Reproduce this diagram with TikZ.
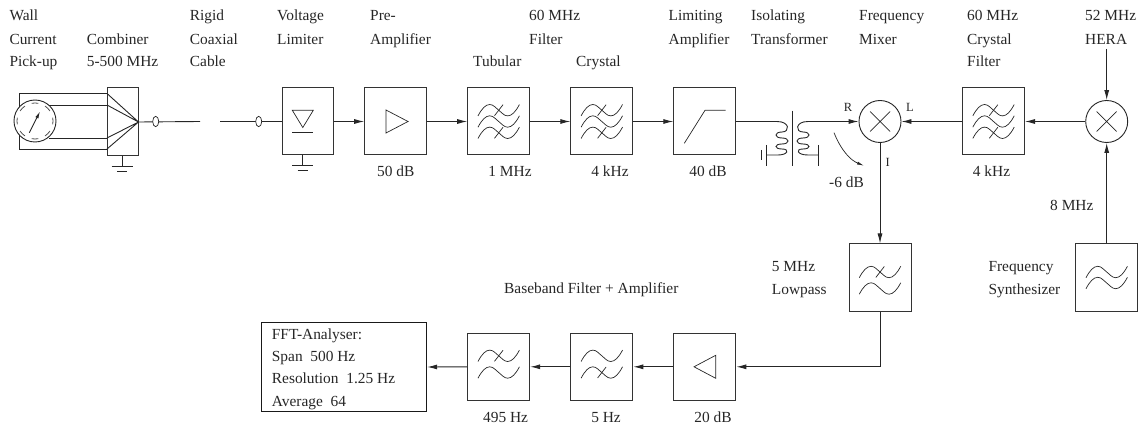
\documentclass[tikz,border=0pt]{standalone}
\usepackage{fontspec}
\setmainfont{Liberation Serif}
\usetikzlibrary{arrows.meta}
\tikzset{
  x=1pt,y=-1pt,
  ln/.style={line width=0.9pt,black!85},
  thin ln/.style={line width=0.7pt,black!85},
  blk/.style={draw=black!80,line width=1pt,minimum width=62pt,minimum height=67pt,inner sep=0pt},
  mix/.style={circle,draw=black!85,line width=0.9pt,minimum size=42pt,inner sep=0pt},
  lbl/.style={font=\fontsize{15.4pt}{18pt}\selectfont,inner sep=0pt,text=black!85},
  small lbl/.style={font=\fontsize{12.5pt}{14pt}\selectfont,inner sep=0pt,text=black!85},
  arr/.style={ln,-{Latex[length=10pt,width=5pt]}},
  wave/.pic={\draw[thin ln] (-20.7,5.7) .. controls (-17,-1.5) and (-13,-5.7) .. (-9,-5.7)
     .. controls (-5,-5.7) and (-3,-2) .. (0,0)
     .. controls (3,2) and (5,5.7) .. (9,5.7)
     .. controls (13,5.7) and (17,1.5) .. (20.7,-5.7);},
  cross/.pic={\draw[thin ln] (-4.2,5.5) -- (4.3,-5.5);}
}
\newcommand{\threefilter}[1]{
  \path (#1.center) pic at +(0,-11.3) {wave} pic at +(0,0) {wave} pic at +(0,11.3) {wave}
     pic at +(0,-11.3) {cross} pic at +(0,11.3) {cross};}
\begin{document}
\begin{tikzpicture}
\useasboundingbox (0,0) rectangle (1142,430);
% top row blocks
\node[blk,minimum width=31pt,minimum height=68pt] (comb) at (122.5,122) {};
\node[blk,minimum width=51pt] (vlim) at (307.5,121.5) {};
\node[blk] (pre) at (395.7,121.5) {};
\node[blk] (tub) at (498.7,121.5) {};
\node[blk] (cry) at (601.8,121.5) {};
\node[blk] (lim) at (704.8,121.5) {};
\node[mix] (mx1) at (880,121.5) {};
\node[blk] (fil) at (993.5,121.5) {};
\node[mix] (mx2) at (1106.7,121.5) {};
\node[blk] (lp) at (880,277.5) {};
\node[blk] (syn) at (1106.7,277.5) {};
\node[blk] (bb1) at (704.8,366.8) {};
\node[blk] (bb2) at (601.8,366.8) {};
\node[blk] (bb3) at (498.7,366.8) {};
\node[draw=black!90,line width=1pt,minimum width=165.4pt,minimum height=89.4pt,inner sep=0pt] (fft) at (344,367) {};
\coordinate (hera) at (1106.7,49);
\coordinate (cabA) at (200,121.5);
\coordinate (cabB) at (220,121.5);
\coordinate (tin) at (777,121.5);
\coordinate (tout) at (808,121.5);
\coordinate (lpturn) at (880,366.8);
% pick-up
\node[circle,draw=black!85,line width=0.9pt,minimum size=42pt,inner sep=0pt] (pu) at (35,121) {};
\coordinate (w1) at (107,93.5);
\coordinate (w2) at (107,105);
\coordinate (w3) at (107,138);
\coordinate (w4) at (107,149);
\coordinate (cout) at (comb.east);
\draw[ln] (19,107) -- (19,93.5) -- (w1);
\draw[ln] (19,135) -- (19,149) -- (w4);
\draw[ln] (49,105) -- (w2);
\draw[ln] (49,138) -- (w3);
\draw[ln] (w1) -- (cout) (w2) -- (cout) (w3) -- (cout) (w4) -- (cout);
\foreach \a in {0,45,...,315}
  \draw[black!70,line width=0.8pt] ([shift={(\a-11:18)}]35,121) arc[start angle=\a-11,end angle=\a+11,radius=18];
\draw[ln,-{Latex[length=7pt,width=3.5pt]}] (29.3,132.7) -- (40,111.5);
% grounds
\foreach \n/\xx/\yy in {comb/122.2/156,vlim/302.7/155}{
  \draw[ln] (\xx,\yy) -- (\xx,\yy+10.5);
  \draw[ln] (\xx-10.5,\yy+10.5) -- (\xx+10.5,\yy+10.5);
  \draw[ln] (\xx-5,\yy+15.5) -- (\xx+5,\yy+15.5);
}
% cable
\draw[ln] (comb.east) -- (cabA);
\draw[ln] (cabB) -- (vlim.west);
\foreach \xx in {155.7,258.7} \draw[thin ln,fill=white] (\xx,121.5) ellipse[x radius=3,y radius=5.2];
% limiter symbol
\draw[thin ln] (292.3,110.3) -- (313.3,110.3) -- (302.8,127.5) -- cycle;
\draw[thin ln] (292.3,132.3) -- (313.3,132.3);
% amp symbols
\draw[thin ln] (386,110) -- (386,133) -- (408,121.5) -- cycle;
\draw[thin ln] (715.7,355.3) -- (715.7,378.3) -- (694,366.8) -- cycle;
\draw[thin ln] (684.3,143.3) -- (705,110.3) -- (725.7,110.3);
% filters
\threefilter{tub}
\threefilter{cry}
\threefilter{fil}
\path (bb3.center) pic at +(0,-11) {wave} pic at +(0,5.7) {wave} pic at +(0,-11) {cross};
\path (bb2.center) pic at +(0,-11) {wave} pic at +(0,5.7) {wave} pic at +(0,5.7) {cross};
\path (lp.center) pic at +(0,-5.5) {wave} pic at +(0,11) {wave} pic at +(0,-5.5) {cross};
\path (syn.center) pic at +(0,-5.5) {wave} pic at +(0,5.5) {wave};
% mixer crosses
\foreach \n in {mx1,mx2}{
 \draw[thin ln] (\n.center) ++(-10,-10) -- ++(20,20) ++(-20,0) -- ++(20,-20);
}
% connectors
\draw[arr] (vlim.east) -- (pre.west);
\draw[arr] (pre.east) -- (tub.west);
\draw[arr] (tub.east) -- (cry.west);
\draw[arr] (cry.east) -- (lim.west);
\draw[ln] (lim.east) -- (tin);
\draw[arr] (tout) -- (mx1.west);
\draw[arr] (fil.west) -- (mx1.east);
\draw[arr] (mx2.west) -- (fil.east);
\draw[arr] (hera) -- (mx2.north);
\draw[arr] (syn.north) -- (mx2.south);
\draw[arr] (mx1.south) -- (lp.north);
\draw[ln] (lp.south) -- (lpturn);
\draw[arr] (lpturn) -- (bb1.east);
\draw[arr] (bb1.west) -- (bb2.east);
\draw[arr] (bb2.west) -- (bb3.east);
\draw[arr] (bb3.west) -- (fft.east);
% transformer
\draw[thin ln] (792.3,110.7) -- (792.3,165.7);
\draw[ln] (tin) .. controls (790,121.5) and (790,132) .. (782,132)
  .. controls (774,132) and (774,138) .. (782,138)
  .. controls (790,138) and (790,144) .. (782,144)
  .. controls (774,144) and (774,149) .. (782,149)
  .. controls (790,149) and (788,155) .. (778,155) -- (766.7,155);
\draw[ln] (tout) .. controls (795,121.5) and (795,132) .. (803,132)
  .. controls (811,132) and (811,138) .. (803,138)
  .. controls (795,138) and (795,144) .. (803,144)
  .. controls (811,144) and (811,149) .. (803,149)
  .. controls (795,149) and (797,155) .. (808,155) -- (818,155);
\draw[ln] (766.7,145) -- (766.7,165.7);
\draw[ln] (761.7,150) -- (761.7,160);
\draw[ln] (818,145) -- (818,165.7);
\draw[thin ln,-{Latex[length=7pt,width=3pt]}] (834,132.7) .. controls (841,150) and (850,160) .. (864,165.7);
% labels (left end, baseline)
\foreach \xx/\yy/\t in {
 9.3/20.7/Wall,9.3/44.3/Current,9.3/66.7/Pick-up,
 86.7/44.3/Combiner,86.7/66.7/5-500 MHz,
 189.7/20.7/Rigid,189.7/44.3/Coaxial,189.7/66.7/Cable,
 277/20.7/Voltage,277/44.3/Limiter,
 370/20.7/Pre-,370/44.3/Amplifier,
 473/66.7/Tubular,
 576/66.7/Crystal,
 668.5/20.7/Limiting,668.5/44.3/Amplifier,
 751/20.7/Isolating,751/44.3/Transformer,
 859/20.7/Frequency,859/44.3/Mixer,
 967/20.7/60 MHz,967/44.3/Crystal,967/66.7/Filter,
 1085/20.7/52 MHz,1085/44.3/HERA,
 529/20.7/60 MHz,529/44.3/Filter,
 771.7/271.7/5 MHz,771.7/294/Lowpass,
 988.3/271.7/Frequency,988.3/294/Synthesizer,
 1050/211/8 MHz,
 504/293.3/Baseband Filter + Amplifier,
 271.7/339/FFT-Analyser:,271.7/361/Span~~500 Hz,271.7/383.8/Resolution~~1.25 Hz,271.7/406/Average~~64,
 829/187.3/-6 dB}
 \node[lbl,anchor=base west] at (\xx,\yy) {\t};
\foreach \xx/\yy/\t in {
 395.7/176.7/50 dB,510/176.7/1 MHz,610/176.7/4 kHz,708/176.7/40 dB,991.5/176.7/4 kHz,
 505.6/422.7/495 Hz,606/422.7/5 Hz,713/422.7/20 dB}
 \node[lbl,anchor=base] at (\xx,\yy) {\t};
\node[small lbl] at (848,107) {R};
\node[small lbl] at (910,107) {L};
\node[small lbl] at (887.7,162) {I};
\end{tikzpicture}
\end{document}
